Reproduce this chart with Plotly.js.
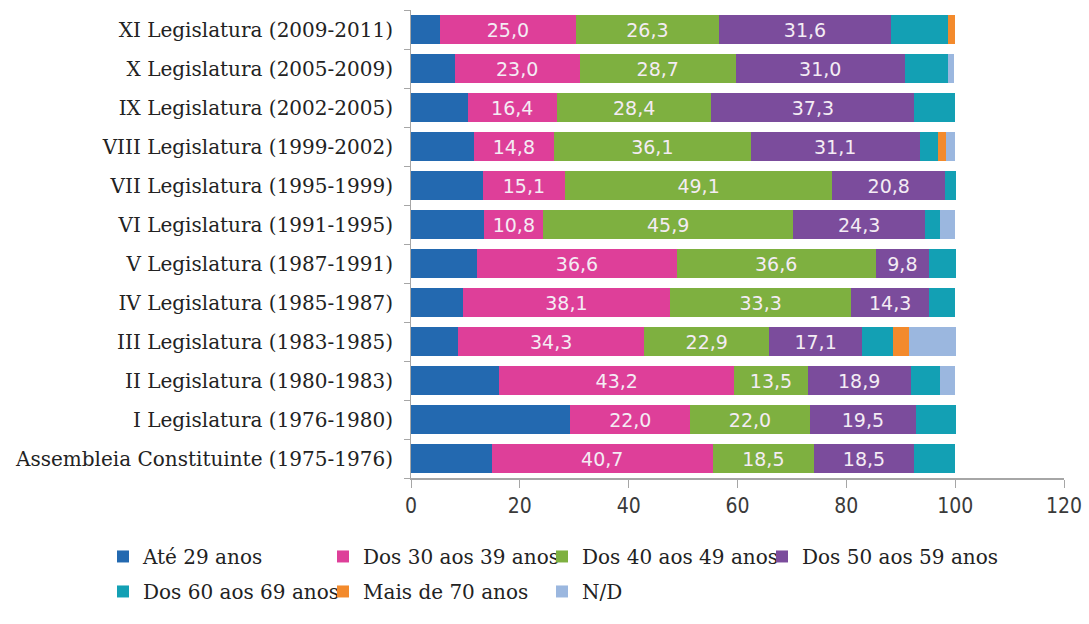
<!DOCTYPE html>
<html><head><meta charset="utf-8">
<script src="https://cdn.plot.ly/plotly-3.0.1.min.js"></script>
<style>html,body{margin:0;padding:0;background:#fff}#c{width:1089px;height:624px}</style>
</head><body><div id="c"></div>
<script>
const categories = [
  "Assembleia Constituinte (1975-1976)",
  "I Legislatura (1976-1980)",
  "II Legislatura (1980-1983)",
  "III Legislatura (1983-1985)",
  "IV Legislatura (1985-1987)",
  "V Legislatura (1987-1991)",
  "VI Legislatura (1991-1995)",
  "VII Legislatura (1995-1999)",
  "VIII Legislatura (1999-2002)",
  "IX Legislatura (2002-2005)",
  "X Legislatura (2005-2009)",
  "XI Legislatura (2009-2011)"
];
const seriesNames = ["Até 29 anos","Dos 30 aos 39 anos","Dos 40 aos 49 anos","Dos 50 aos 59 anos","Dos 60 aos 69 anos","Mais de 70 anos","N/D"];
const ate29   = [14.8, 29.3, 16.2, 8.6, 9.5, 12.2, 13.5, 13.2, 11.5, 10.4, 8.0, 5.3];
const d30_39  = [40.7, 22.0, 43.2, 34.3, 38.1, 36.6, 10.8, 15.1, 14.8, 16.4, 23.0, 25.0];
const d40_49  = [18.5, 22.0, 13.5, 22.9, 33.3, 36.6, 45.9, 49.1, 36.1, 28.4, 28.7, 26.3];
const d50_59  = [18.5, 19.5, 18.9, 17.1, 14.3, 9.8, 24.3, 20.8, 31.1, 37.3, 31.0, 31.6];
const d60_69  = [7.4, 7.3, 5.4, 5.7, 4.8, 4.9, 2.7, 1.9, 3.3, 7.5, 8.0, 10.5];
const mais70  = [0, 0, 0, 2.9, 0, 0, 0, 0, 1.6, 0, 0, 1.3];
const nd      = [0, 0, 2.7, 8.6, 0, 0, 2.7, 0, 1.6, 0, 1.1, 0];
const xTicks  = [0, 20, 40, 60, 80, 100, 120];

const values = [ate29, d30_39, d40_49, d50_59, d60_69, mais70, nd];
const colors = ["#2369b0", "#de3f99", "#7eb040", "#7b4c9c", "#13a0b4", "#f38a2c", "#9bb7df"];
const labeled = [false, true, true, true, false, false, false];
const legendIds = ["legend", "legend2", "legend3", "legend4", "legend", "legend2", "legend3"];

const serif = "DejaVu Serif";

// data bars (no legend entries)
const traces = values.map((v, i) => ({
  type: "bar", orientation: "h",
  y: categories, x: v, name: seriesNames[i],
  marker: {color: colors[i], line: {width: 0}},
  texttemplate: labeled[i] ? "%{x:.1f}" : "",
  textposition: labeled[i] ? "inside" : "none",
  insidetextanchor: "middle",
  constraintext: "none",
  textangle: 0,
  insidetextfont: {family: "DejaVu Sans", size: 19, color: "#f4ecf4"},
  hoverinfo: "none",
  showlegend: false
}));

// legend-only entries (zero-length, no visible mark)
seriesNames.forEach((n, i) => traces.push({
  type: "bar", orientation: "h",
  y: [categories[0]], x: [0], name: n,
  marker: {color: colors[i], line: {width: 0}},
  textfont: {family: serif, size: 20, color: "#222"},
  hoverinfo: "none",
  showlegend: true,
  legend: legendIds[i],
  legendgroup: "g" + i
}));

const mkLegend = (x) => ({x: x, y: -0.126, xanchor: "left", yanchor: "top", orientation: "v",
  font: {family: serif, size: 20, color: "#222"}, bgcolor: "rgba(0,0,0,0)",
  tracegroupgap: 6, itemwidth: 30, traceorder: "grouped"});

const layout = {
  width: 1089, height: 624,
  margin: {l: 411, r: 25, t: 10, b: 146},
  font: {family: serif, color: "#222"},
  paper_bgcolor: "#fff", plot_bgcolor: "#fff",
  barmode: "stack", bargap: 0.28,
  separators: ",.",
  showlegend: true,
  xaxis: {range: [0, 120], tickvals: xTicks, ticktext: xTicks.map(String),
    showgrid: false, zeroline: false, showline: true, linecolor: "#a6a6a6", linewidth: 2,
    ticks: "outside", ticklen: 8, tickcolor: "#a6a6a6", tickwidth: 1,
    tickfont: {family: "DejaVu Sans Condensed, DejaVu Sans", size: 21, color: "#3a3a3a"}, fixedrange: true},
  yaxis: {type: "category", categoryorder: "array", categoryarray: categories,
    showgrid: false, zeroline: false, showline: true, linecolor: "#a6a6a6", linewidth: 1,
    ticks: "outside", tickson: "boundaries", ticklen: 6, tickcolor: "#a6a6a6",
    ticklabelstandoff: 13,
    tickfont: {family: serif, size: 20, color: "#222"}, fixedrange: true},
  legend: mkLegend(-0.4717),
  legend2: mkLegend(-0.1348),
  legend3: mkLegend(0.2006),
  legend4: mkLegend(0.5375)
};

Plotly.newPlot("c", traces, layout, {displayModeBar: false, staticPlot: true});
</script>
</body></html>
